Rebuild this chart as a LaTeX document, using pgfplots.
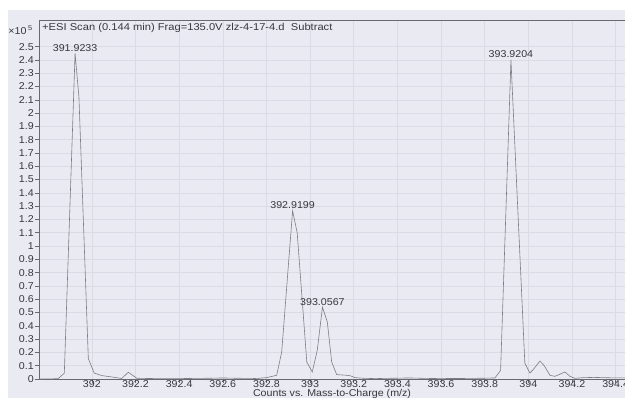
\documentclass[border=0pt]{standalone}
\usepackage{pgfplots}
\pgfplotsset{compat=1.18}
\usepackage{pgfplotstable}
\usepackage{fontspec}
\setmainfont{Liberation Sans}[FakeStretch=1.07]
\newfontfamily\titlefont{Liberation Sans}[FakeStretch=1.12]
\definecolor{bg}{RGB}{234,234,242}
\definecolor{gridc}{RGB}{219,219,229}
\definecolor{axc}{RGB}{105,105,112}
\definecolor{linec}{RGB}{125,125,132}
\definecolor{txt}{RGB}{55,55,60}
\pgfplotstableread{
mz val
391.758 0.000
391.800 0.001
391.845 0.002
391.874 0.044
391.9233 2.45
391.941 2.12
391.984 0.153
392.011 0.045
392.045 0.026
392.097 0.014
392.137 0.004
392.167 0.051
392.206 0.006
392.25 0.004
392.30 0.003
392.35 0.002
392.40 0.003
392.45 0.004
392.50 0.005
392.55 0.006
392.60 0.008
392.65 0.006
392.70 0.005
392.75 0.004
392.80 0.010
392.847 0.028
392.870 0.203
392.9199 1.265
392.941 1.10
392.985 0.128
393.010 0.053
393.033 0.216
393.0567 0.54
393.079 0.43
393.099 0.128
393.122 0.033
393.168 0.028
393.183 0.025
393.206 0.010
393.25 0.005
393.30 0.003
393.35 0.005
393.40 0.006
393.45 0.008
393.50 0.006
393.55 0.004
393.60 0.003
393.65 0.004
393.70 0.004
393.75 0.005
393.80 0.006
393.847 0.008
393.873 0.065
393.9204 2.40
393.984 0.12
394.007 0.045
394.022 0.07
394.053 0.135
394.073 0.10
394.099 0.028
394.122 0.020
394.168 0.053
394.191 0.020
394.214 0.005
394.25 0.010
394.30 0.012
394.35 0.010
394.40 0.008
394.443 0.008
}\spec
\begin{document}
\begin{tikzpicture}[x=1bp,y=1bp]
\fill[white] (-39,-19) rectangle (586,379);
\fill[bg] (-31,-19) rectangle (586,369);
\begin{axis}[
  at={(0,0)}, anchor=south west,
  scale only axis, width=586bp, height=359bp,
  xmin=391.758, xmax=394.443, ymin=0, ymax=2.70,
  axis line style={axc, line width=0.6bp},
  tick style={axc, line width=0.5bp},
  tick align=outside, major tick length=4bp,
  xtick pos=bottom, ytick pos=left,
  xtick={392,392.2,392.4,392.6,392.8,393,393.2,393.4,393.6,393.8,394,394.2,394.4},
  ytick={0,0.1,0.2,0.3,0.4,0.5,0.6,0.7,0.8,0.9,1,1.1,1.2,1.3,1.4,1.5,1.6,1.7,1.8,1.9,2,2.1,2.2,2.3,2.4,2.5},
  /pgf/number format/assume math mode=true,
  xticklabel style={/pgf/number format/fixed, /pgf/number format/precision=1, /pgf/number format/1000 sep={}, inner sep=0pt, yshift=2.5bp, text height=7bp, text depth=0bp},
  yticklabel style={/pgf/number format/fixed, /pgf/number format/precision=1, inner sep=1bp},
  ticklabel style={font=\fontsize{10}{11}\selectfont, text=txt},
  grid=major, major grid style={gridc, line width=0.5bp},
  xlabel={Counts vs. Mass-to-Charge (m/z)},
  xlabel style={at={(axis description cs:0.5,0)}, anchor=base, yshift=-17bp, font=\fontsize{10}{11}\selectfont, text=txt, inner sep=0pt, text height=7bp, text depth=2bp},
  clip=false,
]
\addplot[linec, line width=0.6bp] table[x=mz, y=val] {\spec};
\node[anchor=base, text=txt, font=\fontsize{10}{11}\selectfont, inner sep=0pt, yshift=2bp] at (axis cs:391.9233,2.45) {391.9233};
\node[anchor=base, text=txt, font=\fontsize{10}{11}\selectfont, inner sep=0pt, yshift=2bp] at (axis cs:392.9199,1.265) {392.9199};
\node[anchor=base, text=txt, font=\fontsize{10}{11}\selectfont, inner sep=0pt, yshift=2bp] at (axis cs:393.0567,0.54) {393.0567};
\node[anchor=base, text=txt, font=\fontsize{10}{11}\selectfont, inner sep=0pt, yshift=2bp] at (axis cs:393.9204,2.40) {393.9204};
\end{axis}
\node[anchor=west, text=txt, font=\titlefont\fontsize{10}{11}\selectfont, inner sep=0pt] at (3,351) {+ESI Scan (0.144 min) Frag=135.0V zlz-4-17-4.d\ \ Subtract};
\node[anchor=east, text=txt, font=\fontsize{10}{11}\selectfont, inner sep=0pt] at (-6,349) {\texttimes10\,\textsuperscript{5}};
\pgfresetboundingbox
\useasboundingbox (-39,-19) rectangle (586,379);
\end{tikzpicture}
\end{document}
